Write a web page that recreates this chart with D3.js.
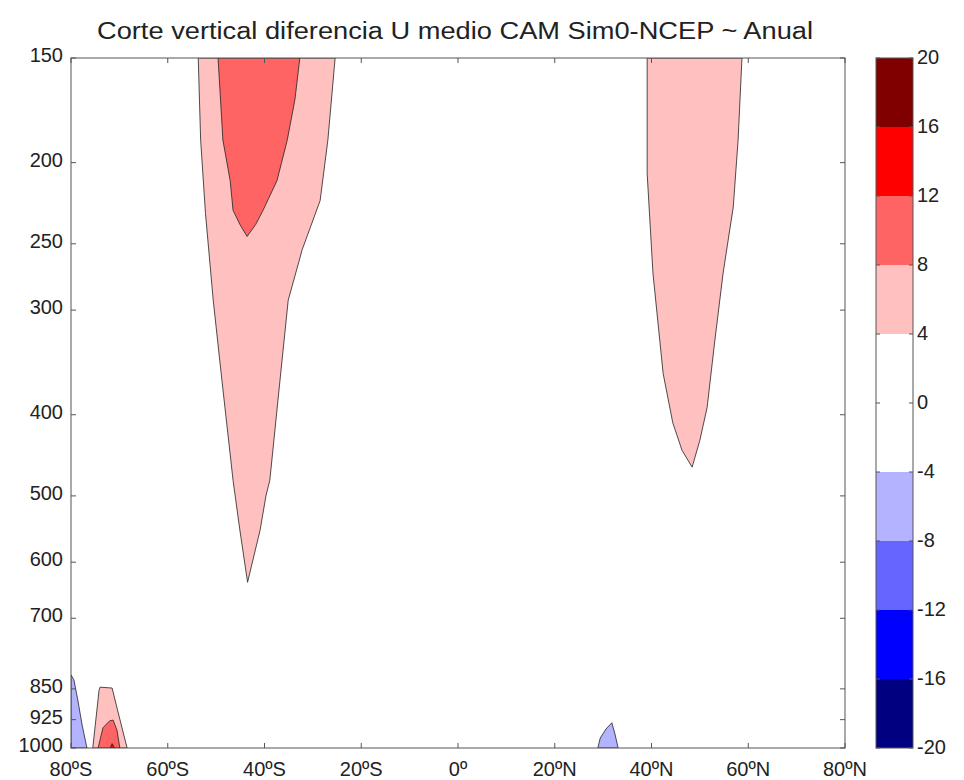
<!DOCTYPE html>
<html>
<head>
<meta charset="utf-8">
<script src="https://cdn.jsdelivr.net/npm/d3@7"></script>
<style>
  body { margin: 0; background: #fff; }
  svg text { font-family: "Liberation Sans", Arial, sans-serif; fill: #222; }
</style>
</head>
<body>
<div class="chart"></div>
<script>
// niveles del contorno y colores de cada banda (de -20 a 20)
var levels = [-20, -16, -12, -8, -4, 0, 4, 8, 12, 16, 20];
var bandColors = ["#000080", "#0000ff", "#6666ff", "#b3b3ff", "#ffffff",
                  "#ffffff", "#ffc0c0", "#ff6464", "#ff0000", "#800000"];

var latTicks = [-80, -60, -40, -20, 0, 20, 40, 60, 80];
var latLabels = ["80ºS", "60ºS", "40ºS", "20ºS", "0º", "20ºN", "40ºN", "60ºN", "80ºN"];
var presTicks = [150, 200, 250, 300, 400, 500, 600, 700, 850, 925, 1000];

// contornos: [latitud, presion hPa]
var jetSurExterior = [[-53.7, 150], [-53.2, 188], [-52.2, 230], [-50.6, 292], [-48.8, 364],
  [-46.5, 479], [-45.1, 549], [-43.5, 634], [-40.9, 549], [-39.7, 500], [-38.9, 479],
  [-36.8, 364], [-35.1, 292], [-32.2, 254], [-28.5, 222], [-26.9, 188], [-25.4, 150]];
var jetSurInterior = [[-49.6, 150], [-48.6, 188], [-47.1, 210], [-46.5, 228], [-45.1, 237],
  [-43.6, 245], [-41.8, 237], [-40.3, 228], [-37.4, 210], [-35.3, 188], [-33.7, 168], [-32.7, 150]];
var jetNorte = [[39.1, 150], [39.1, 206], [40.3, 271], [42.4, 357], [44.4, 409],
  [46.3, 441], [48.4, 462], [50.0, 429], [51.5, 392], [53.1, 326], [54.8, 271],
  [56.9, 226], [57.9, 188], [58.7, 150]];
var polarAzul = [[-80, 818], [-79.4, 829], [-78.6, 876], [-77.7, 939], [-76.7, 1000], [-80, 1000]];
var polarRosa = [[-75.5, 1000], [-74.2, 853], [-74.0, 846], [-71.5, 848], [-70.4, 900], [-68.4, 1000]];
var polarRojo = [[-74.4, 1000], [-73.4, 946], [-72.0, 928], [-71.3, 926], [-70.5, 952], [-69.9, 1000]];
var polarOscuro = [[-71.9, 1000], [-71.5, 988], [-71.0, 1000]];
var subtropAzul = [[28.9, 1000], [29.4, 973], [30.6, 949], [31.8, 933], [32.5, 965], [33.1, 1000]];

// cada region con el indice de su banda de color
var regions = [
  { pts: jetSurExterior, band: 6 },
  { pts: jetSurInterior, band: 7 },
  { pts: jetNorte, band: 6 },
  { pts: polarAzul, band: 3 },
  { pts: polarRosa, band: 6 },
  { pts: polarRojo, band: 7 },
  { pts: polarOscuro, band: 8 },
  { pts: subtropAzul, band: 3 }
];

var width = 964, height = 780;
var plot = { left: 71, right: 845, top: 58, bottom: 748 };

var svg = d3.select(".chart").append("svg")
  .attr("width", width).attr("height", height);

var x = d3.scaleLinear().domain([-80, 80]).range([plot.left, plot.right]);
var y = d3.scaleLog().domain([150, 1000]).range([plot.top, plot.bottom]);

svg.append("clipPath").attr("id", "clip")
  .append("rect")
  .attr("x", plot.left).attr("y", plot.top)
  .attr("width", plot.right - plot.left).attr("height", plot.bottom - plot.top);

var line = d3.line()
  .x(function (d) { return x(d[0]); })
  .y(function (d) { return y(d[1]); })
  .curve(d3.curveLinearClosed);

svg.append("g").attr("clip-path", "url(#clip)")
  .selectAll("path").data(regions).enter()
  .append("path")
  .attr("d", function (d) { return line(d.pts); })
  .style("fill", function (d) { return bandColors[d.band]; })
  .style("stroke", "#222")
  .style("stroke-width", "0.8px");

// ejes estilo matlab, ticks hacia dentro
var axColor = "#555";
var tick = 5;
var axes = svg.append("g");
axes.append("rect")
  .attr("x", plot.left).attr("y", plot.top)
  .attr("width", plot.right - plot.left).attr("height", plot.bottom - plot.top)
  .style("fill", "none").style("stroke", axColor).style("stroke-width", "1px");

latTicks.forEach(function (t, i) {
  axes.append("line")
    .attr("x1", x(t)).attr("x2", x(t))
    .attr("y1", plot.bottom).attr("y2", plot.bottom - tick)
    .style("stroke", axColor);
  axes.append("line")
    .attr("x1", x(t)).attr("x2", x(t))
    .attr("y1", plot.top).attr("y2", plot.top + tick)
    .style("stroke", axColor);
  axes.append("text")
    .attr("x", x(t)).attr("y", 776)
    .attr("text-anchor", "middle")
    .style("font-size", "20px")
    .text(latLabels[i]);
});

presTicks.forEach(function (p) {
  axes.append("line")
    .attr("x1", plot.left).attr("x2", plot.left + tick)
    .attr("y1", y(p)).attr("y2", y(p))
    .style("stroke", axColor);
  axes.append("line")
    .attr("x1", plot.right).attr("x2", plot.right - tick)
    .attr("y1", y(p)).attr("y2", y(p))
    .style("stroke", axColor);
  axes.append("text")
    .attr("x", 63).attr("y", y(p) + 4)
    .attr("text-anchor", "end")
    .style("font-size", "20px")
    .text(p);
});

svg.append("text")
  .attr("x", 97).attr("y", 39)
  .attr("textLength", 716)
  .attr("lengthAdjust", "spacingAndGlyphs")
  .style("font-size", "23px")
  .text("Corte vertical diferencia U medio CAM Sim0-NCEP ~ Anual");

// barra de colores
var cb = { left: 876, right: 913 };
var cy = d3.scaleLinear().domain([-20, 20]).range([plot.bottom, plot.top]);
var bar = svg.append("g");
bar.selectAll("rect.band").data(d3.range(levels.length - 1)).enter()
  .append("rect").attr("class", "band")
  .attr("x", cb.left)
  .attr("y", function (i) { return cy(levels[i + 1]); })
  .attr("width", cb.right - cb.left)
  .attr("height", function (i) { return cy(levels[i]) - cy(levels[i + 1]); })
  .style("fill", function (i) { return bandColors[i]; });
bar.append("rect")
  .attr("x", cb.left).attr("y", plot.top)
  .attr("width", cb.right - cb.left).attr("height", plot.bottom - plot.top)
  .style("fill", "none").style("stroke", axColor);
levels.forEach(function (l) {
  bar.append("line")
    .attr("x1", cb.left).attr("x2", cb.left + 4)
    .attr("y1", cy(l)).attr("y2", cy(l)).style("stroke", axColor);
  bar.append("line")
    .attr("x1", cb.right).attr("x2", cb.right - 4)
    .attr("y1", cy(l)).attr("y2", cy(l)).style("stroke", axColor);
  bar.append("text")
    .attr("x", cb.right + 4).attr("y", cy(l) + 6)
    .style("font-size", "20px")
    .text(l);
});
</script>
</body>
</html>
